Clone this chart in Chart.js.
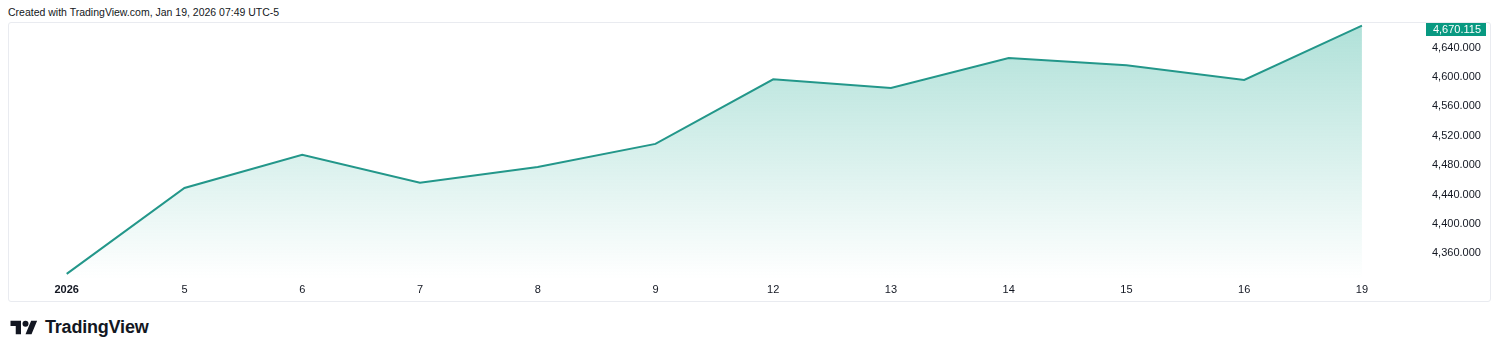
<!DOCTYPE html>
<html>
<head>
<meta charset="utf-8">
<script src="https://cdn.jsdelivr.net/npm/chart.js@4"></script>
<style>
  body { margin: 0; width: 1500px; height: 355px; background: #fff; position: relative; font-family: "Liberation Sans", Arial, sans-serif; overflow: hidden; }
  #header { position: absolute; left: 8px; top: 6px; font-size: 10.5px; color: #131722; }
  #frame { position: absolute; left: 8px; top: 22px; width: 1481px; height: 278px; border: 1px solid #e9ebf0; border-radius: 3px; }
  #frame canvas { position: absolute; left: 0; top: 0; }
  #logo { position: absolute; left: 10px; top: 317px; display: flex; align-items: center; gap: 7px; }
  #logo span { font-size: 18px; font-weight: bold; color: #131722; letter-spacing: -0.2px; }
</style>
</head>
<body>
<div id="header">Created with TradingView.com, Jan 19, 2026 07:49 UTC-5</div>
<div id="frame"><canvas id="chart"></canvas></div>
<div id="logo">
  <svg width="28" height="15" viewBox="0 3 36 20"><path d="M14 22H7V11H0V4h14v18zM28 22h-8l7.5-18h8L28 22z" fill="#131722"/><circle cx="20" cy="8" r="4" fill="#131722"/></svg>
  <span>TradingView</span>
</div>
<script>
// session labels along the time axis
const dayLabels = ["2026", "5", "6", "7", "8", "9", "12", "13", "14", "15", "16", "19"];
// closing values
const closeValues = [4332, 4449, 4494, 4456, 4477.5, 4509, 4597, 4585, 4626, 4616, 4596, 4670.115];
// price scale labels
const priceTicks = [4360, 4400, 4440, 4480, 4520, 4560, 4600, 4640];

const lineColor = "#23978a";
const tagColor = "#089981";

function fmt(v) {
  return v.toLocaleString("en-US", { minimumFractionDigits: 3, maximumFractionDigits: 3 });
}

const lastTag = {
  id: "lastTag",
  afterDraw(chart) {
    const { ctx, chartArea, scales } = chart;
    const last = closeValues[closeValues.length - 1];
    let y = scales.y.getPixelForValue(last);
    y = Math.max(y, chartArea.top + 6.5);
    const x0 = chartArea.right + 4;
    const w = 60;
    const h = 13;
    ctx.save();
    ctx.fillStyle = tagColor;
    ctx.fillRect(x0, y - h / 2, w, h);
    ctx.fillStyle = "#fff";
    ctx.font = "11px 'Liberation Sans', Arial, sans-serif";
    ctx.textAlign = "right";
    ctx.textBaseline = "middle";
    ctx.fillText(fmt(last), x0 + w - 5, y + 0.5);
    ctx.restore();
  },
};

const ctx = document.getElementById("chart");
ctx.width = 1481;
ctx.height = 278;

new Chart(ctx, {
  type: "line",
  data: {
    datasets: [
      {
        data: closeValues.map((v, i) => ({ x: i, y: v })),
        borderColor: lineColor,
        borderWidth: 2,
        pointRadius: 0,
        tension: 0,
        fill: "start",
        backgroundColor: (c) => {
          const area = c.chart.chartArea;
          if (!area) return "rgba(37,170,150,0.3)";
          const g = c.chart.ctx.createLinearGradient(0, area.top, 0, area.bottom);
          g.addColorStop(0, "rgba(34,171,148,0.36)");
          g.addColorStop(1, "rgba(34,171,148,0.0)");
          return g;
        },
      },
    ],
  },
  options: {
    responsive: false,
    animation: false,
    layout: { padding: 0 },
    plugins: { legend: { display: false }, tooltip: { enabled: false } },
    scales: {
      x: {
        type: "linear",
        min: -0.49,
        max: 11.51,
        grid: { display: false, drawTicks: false },
        border: { display: false },
        afterBuildTicks: (s) => { s.ticks = dayLabels.map((_, i) => ({ value: i })); },
        afterFit: (s) => { s.height = 22; s.paddingLeft = 0; s.paddingRight = 0; },
        ticks: {
          padding: 4,
          maxRotation: 0,
          autoSkip: false,
          color: "#131722",
          font: (c) => ({ family: "'Liberation Sans', Arial, sans-serif", size: 11, weight: c.index === 0 ? "bold" : "normal" }),
          callback: (v) => dayLabels[v],
        },
      },
      y: {
        position: "right",
        min: 4325,
        max: 4673.6,
        grid: { display: false, drawTicks: false },
        border: { display: false },
        afterBuildTicks: (s) => { s.ticks = priceTicks.map((v) => ({ value: v })); },
        afterFit: (s) => { s.width = 68; s.paddingTop = 0; s.paddingBottom = 0; },
        ticks: {
          padding: 10,
          color: "#131722",
          font: { family: "'Liberation Sans', Arial, sans-serif", size: 11 },
          callback: (v) => fmt(v),
        },
      },
    },
  },
  plugins: [lastTag],
});
</script>
</body>
</html>
